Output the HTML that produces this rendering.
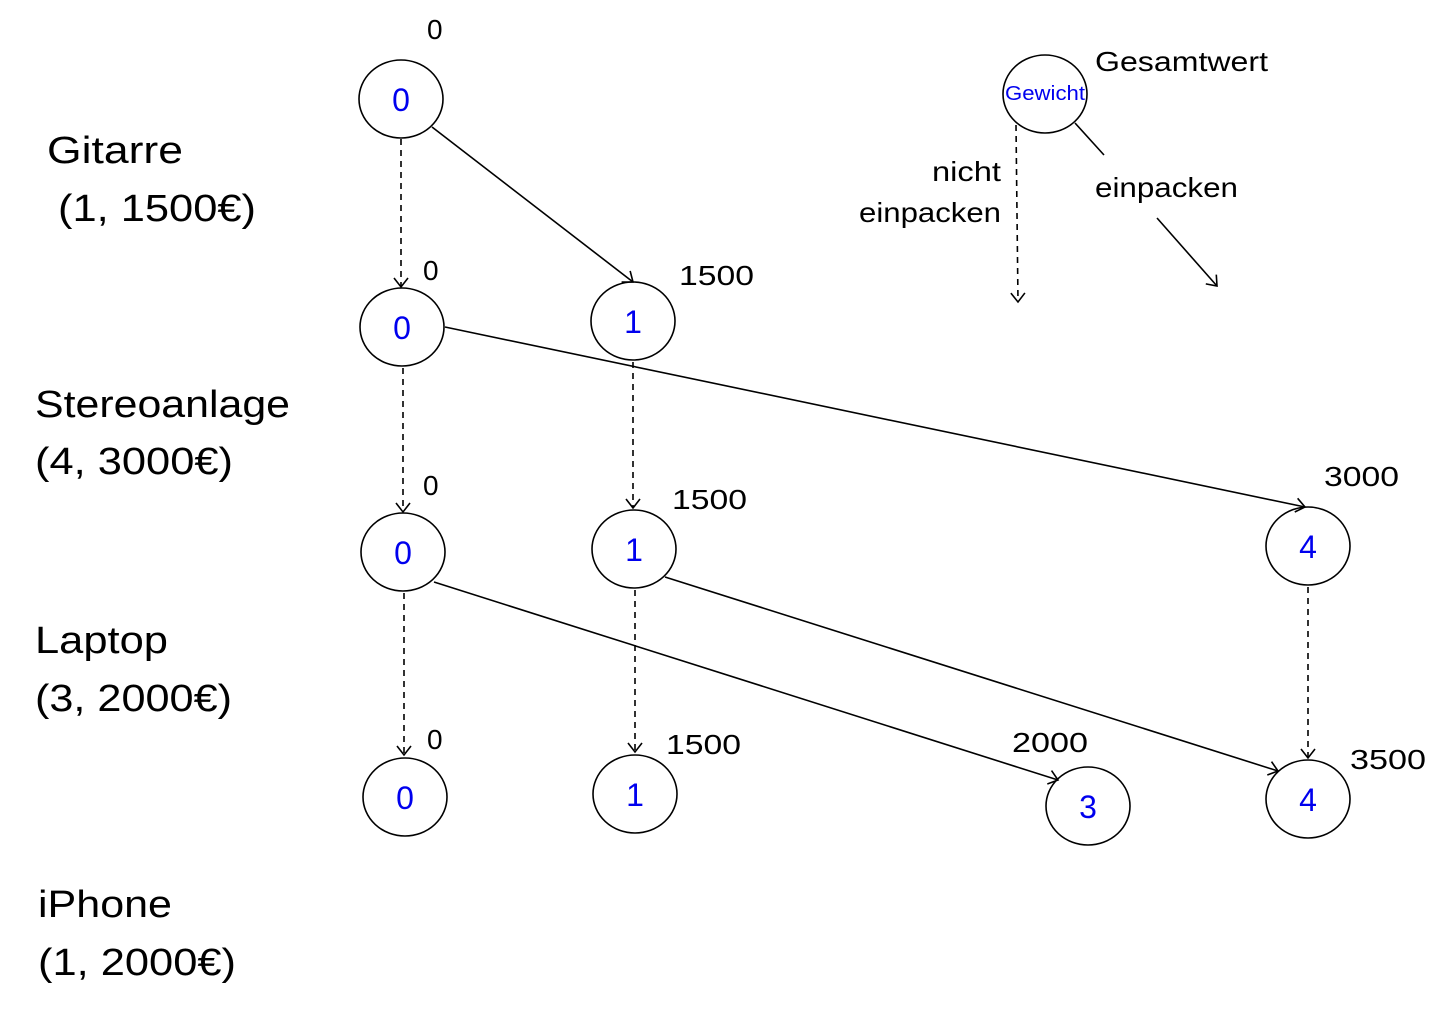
<!DOCTYPE html>
<html><head><meta charset="utf-8"><style>
html,body{margin:0;padding:0;background:#fff;}
svg{display:block;}
text{font-family:"Liberation Sans",sans-serif;}
</style></head><body>
<svg width="1432" height="1020" viewBox="0 0 1432 1020" xmlns="http://www.w3.org/2000/svg">
<defs>
<marker id="a" markerWidth="20" markerHeight="20" refX="10" refY="10" orient="auto" markerUnits="userSpaceOnUse">
<path d="M1,3 L10,10 L1,17" fill="none" stroke="#000" stroke-width="1.6"/>
</marker>
</defs>
<g stroke="#000" stroke-width="1.6" fill="none">
<ellipse cx="401" cy="99" rx="42" ry="39"/>
<ellipse cx="402" cy="327" rx="42" ry="39"/>
<ellipse cx="633" cy="321" rx="42" ry="39"/>
<ellipse cx="403" cy="552" rx="42" ry="39"/>
<ellipse cx="634" cy="549" rx="42" ry="39"/>
<ellipse cx="1308" cy="546" rx="42" ry="39"/>
<ellipse cx="405" cy="797" rx="42" ry="39"/>
<ellipse cx="635" cy="794" rx="42" ry="39"/>
<ellipse cx="1088" cy="806" rx="42" ry="39"/>
<ellipse cx="1308" cy="799" rx="42" ry="39"/>
<ellipse cx="1045" cy="94" rx="42" ry="39"/>
<g stroke-dasharray="6,5">
<line x1="401" y1="139" x2="401" y2="287" marker-end="url(#a)"/>
<line x1="403" y1="368" x2="403" y2="512" marker-end="url(#a)"/>
<line x1="633" y1="362" x2="633" y2="508" marker-end="url(#a)"/>
<line x1="404" y1="593" x2="404" y2="755" marker-end="url(#a)"/>
<line x1="635" y1="590" x2="635" y2="752" marker-end="url(#a)"/>
<line x1="1308" y1="587" x2="1308" y2="758" marker-end="url(#a)"/>
<line x1="1016" y1="125" x2="1018" y2="302" marker-end="url(#a)"/>
</g>
<line x1="432" y1="127" x2="633" y2="282" marker-end="url(#a)"/>
<line x1="445" y1="327" x2="1305" y2="507" marker-end="url(#a)"/>
<line x1="434" y1="582" x2="1058" y2="780" marker-end="url(#a)"/>
<line x1="665" y1="577" x2="1278" y2="771" marker-end="url(#a)"/>
<line x1="1075" y1="123" x2="1104" y2="155"/>
<line x1="1157" y1="218" x2="1217" y2="286" marker-end="url(#a)"/>
</g>
<g fill="#0000ee" font-size="32" text-anchor="middle">
<text x="401" y="111">0</text>
<text x="402" y="339">0</text>
<text x="633" y="333">1</text>
<text x="403" y="564">0</text>
<text x="634" y="561">1</text>
<text x="1308" y="558">4</text>
<text x="405" y="809">0</text>
<text x="635" y="806">1</text>
<text x="1088" y="818">3</text>
<text x="1308" y="811">4</text>
</g>
<text x="1005" y="100" font-size="20" fill="#0000ee" textLength="80" lengthAdjust="spacingAndGlyphs">Gewicht</text>
<g fill="#000" font-size="28" lengthAdjust="spacingAndGlyphs">
<text x="427" y="39">0</text>
<text x="423" y="280">0</text>
<text x="679" y="285" textLength="75" lengthAdjust="spacingAndGlyphs">1500</text>
<text x="423" y="495">0</text>
<text x="672" y="509" textLength="75" lengthAdjust="spacingAndGlyphs">1500</text>
<text x="1324" y="486" textLength="75" lengthAdjust="spacingAndGlyphs">3000</text>
<text x="427" y="749">0</text>
<text x="666" y="754" textLength="75" lengthAdjust="spacingAndGlyphs">1500</text>
<text x="1012" y="752" textLength="76" lengthAdjust="spacingAndGlyphs">2000</text>
<text x="1350" y="769" textLength="76" lengthAdjust="spacingAndGlyphs">3500</text>
<text x="1095" y="71" textLength="173" lengthAdjust="spacingAndGlyphs">Gesamtwert</text>
<text x="932" y="181" textLength="69" lengthAdjust="spacingAndGlyphs">nicht</text>
<text x="859" y="222" textLength="142" lengthAdjust="spacingAndGlyphs">einpacken</text>
<text x="1095" y="197" textLength="143" lengthAdjust="spacingAndGlyphs">einpacken</text>
</g>
<g fill="#000" font-size="38">
<text x="47" y="163" textLength="136" lengthAdjust="spacingAndGlyphs">Gitarre</text>
<text x="58" y="221" textLength="198" lengthAdjust="spacingAndGlyphs">(1, 1500€)</text>
<text x="35" y="417" textLength="255" lengthAdjust="spacingAndGlyphs">Stereoanlage</text>
<text x="35" y="474" textLength="198" lengthAdjust="spacingAndGlyphs">(4, 3000€)</text>
<text x="35" y="653" textLength="133" lengthAdjust="spacingAndGlyphs">Laptop</text>
<text x="35" y="711" textLength="197" lengthAdjust="spacingAndGlyphs">(3, 2000€)</text>
<text x="38" y="917" textLength="134" lengthAdjust="spacingAndGlyphs">iPhone</text>
<text x="38" y="975" textLength="198" lengthAdjust="spacingAndGlyphs">(1, 2000€)</text>
</g>
</svg>
</body></html>
